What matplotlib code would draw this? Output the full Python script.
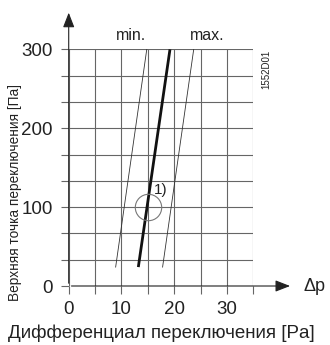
import matplotlib
matplotlib.use("Agg")
import matplotlib.pyplot as plt

plt.rcParams['font.family'] = ['Liberation Sans', 'DejaVu Sans']

# данные кривых (дифференциал, верхняя точка)
nominal_x = [13.2, 19.2]
nominal_y = [24, 300]
min_x = [8.9, 14.8]
min_y = [24, 300]
max_x = [17.8, 23.7]
max_y = [24, 300]

point_x = 15
point_y = 100

x_ticks = [0, 10, 20, 30]
x_minor = [5, 15, 25, 35]
y_ticks = [0, 100, 200, 300]
y_minor = [100 / 3, 200 / 3, 400 / 3, 500 / 3, 700 / 3, 800 / 3]

fig = plt.figure(figsize=(3.3, 3.45), dpi=100)
ax = fig.add_axes([0.2082, 0.171, 0.5594, 0.686])
ax.set_xlim(0, 35)
ax.set_ylim(0, 300)

for s in ax.spines.values():
    s.set_visible(False)

ax.set_xticks(x_ticks)
ax.set_xticks(x_minor, minor=True)
ax.set_yticks(y_ticks)
ax.set_yticks(y_minor, minor=True)
ax.grid(True, which="both", color="#666666", lw=0.8)
ax.tick_params(which="both", direction="out", length=5.5, width=0.8, color="#666666",
               labelsize=13.5, labelcolor="#222222")
ax.tick_params(axis="x", pad=5)
ax.tick_params(axis="y", pad=6)

# оси со стрелками
ax.annotate("", xy=(0, 350), xytext=(0, 0), annotation_clip=False,
            arrowprops=dict(arrowstyle="-|>,head_length=0.9,head_width=0.35", color="#222222", lw=0.8))
ax.annotate("", xy=(42.5, 0), xytext=(0, 0), annotation_clip=False,
            arrowprops=dict(arrowstyle="-|>,head_length=0.9,head_width=0.35", color="#222222", lw=0.8))
ax.text(44.5, 0, "Δp", fontsize=13, color="#222222", va="center", ha="left", clip_on=False)

ax.plot(min_x, min_y, color="#333333", lw=0.6)
ax.plot(max_x, max_y, color="#333333", lw=0.6)
ax.plot(nominal_x, nominal_y, color="#111111", lw=2.0, solid_capstyle="butt")

ax.plot([point_x], [point_y], marker="o", markersize=19, fillstyle="none",
        markeredgecolor="#777777", markeredgewidth=0.8, linestyle="none")
ax.text(17.5, 122, "1)", fontsize=11, color="#222222", ha="center", va="center")

ax.text(11.9, 318, "min.", fontsize=11.5, color="#222222", ha="center", va="center", clip_on=False)
ax.text(26.2, 318, "max.", fontsize=11.5, color="#222222", ha="center", va="center", clip_on=False)
ax.text(37.5, 274, "1552D01", fontsize=7, color="#222222", rotation=90,
        ha="center", va="center", clip_on=False)

fig.text(0.046, 0.442, "Верхняя точка переключения [Па]", rotation=90, fontsize=9.8,
         color="#222222", ha="center", va="center")
fig.text(0.024, 0.035, "Дифференциал переключения [Pa]", fontsize=13.5,
         color="#222222", ha="left", va="center")

fig.savefig("out.png", dpi=100)
